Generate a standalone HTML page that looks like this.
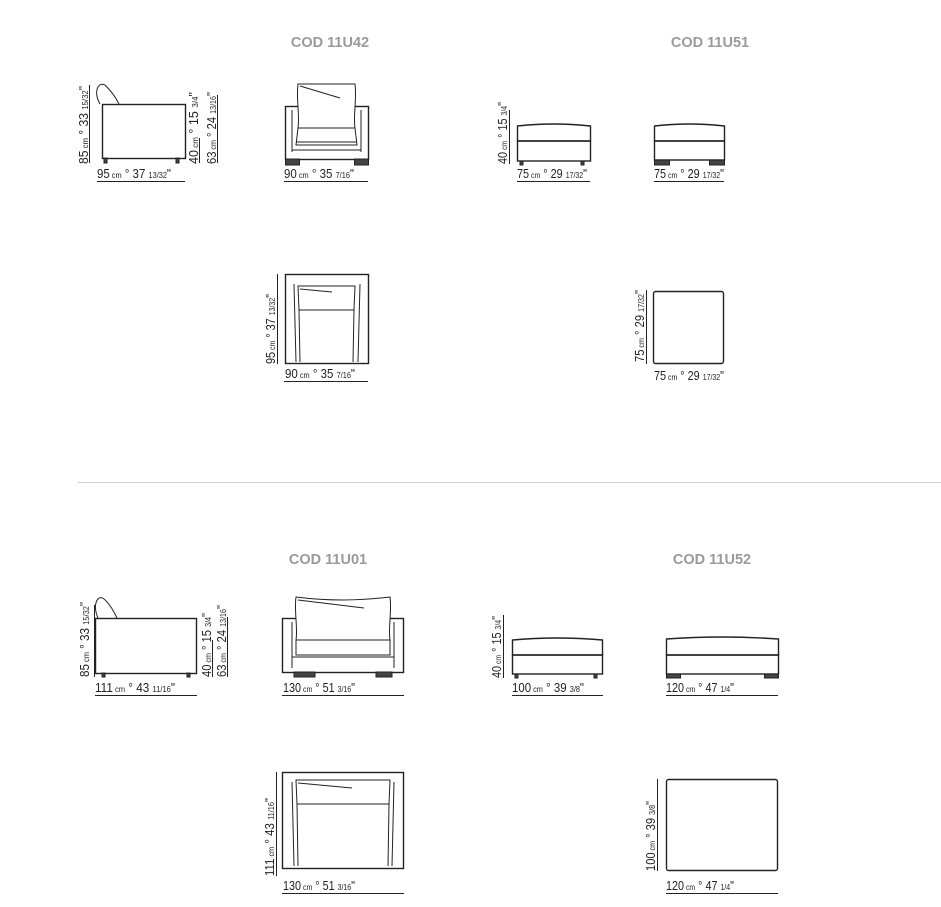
<!DOCTYPE html>
<html><head><meta charset="utf-8"><style>
html,body{margin:0;padding:0;background:#fff;}
svg{display:block;}
text{font-family:"Liberation Sans Narrow","Liberation Sans",sans-serif;fill:#222;}
.t{font-family:"Liberation Sans",sans-serif;fill:#9a9a9a;font-size:14.5px;font-weight:bold;}
.s{font-size:8px;}
.d{font-size:12.5px;}
line,rect,path,polyline{stroke:#222;fill:none;stroke-width:1;}
.thick{stroke-width:1.4;}
.ft{fill:#444;stroke:#222;}
</style></head><body>
<svg width="941" height="907" viewBox="0 0 941 907" xmlns="http://www.w3.org/2000/svg">
<text class="t" x="330" y="47" text-anchor="middle">COD 11U42</text>
<text class="t" x="710" y="47" text-anchor="middle">COD 11U51</text>
<text class="t" x="328" y="564" text-anchor="middle">COD 11U01</text>
<text class="t" x="712" y="564" text-anchor="middle">COD 11U52</text>
<line x1="78" y1="482.5" x2="941" y2="482.5" style="stroke:#d0d0d0"/>

<!-- 11U42 side -->
<path d="M100 104 C92 90,100 80,106 86 C112 92,116 98,119 104" />
<rect x="102.5" y="104.5" width="83" height="54" class="thick"/>
<rect x="104" y="158" width="3" height="5" class="ft"/>
<rect x="176" y="158" width="3" height="5" class="ft"/>
<line x1="89.5" y1="85" x2="89.5" y2="163"/>
<text class="d" transform="translate(88,164) rotate(-90)" textLength="78" lengthAdjust="spacingAndGlyphs">85<tspan class="s"> cm</tspan> ° 33 <tspan class="s">15/32</tspan>"</text>
<line x1="199.5" y1="138" x2="199.5" y2="163"/>
<text class="d" transform="translate(198,164) rotate(-90)" textLength="72" lengthAdjust="spacingAndGlyphs">40<tspan class="s"> cm</tspan> ° 15 <tspan class="s">3/4</tspan>"</text>
<line x1="217.5" y1="95" x2="217.5" y2="163"/>
<text class="d" transform="translate(216,164) rotate(-90)" textLength="72" lengthAdjust="spacingAndGlyphs">63<tspan class="s"> cm</tspan> ° 24 <tspan class="s">13/16</tspan>"</text>
<text class="d" x="97" y="178" textLength="74" lengthAdjust="spacingAndGlyphs">95<tspan class="s"> cm</tspan> ° 37 <tspan class="s">13/32</tspan>"</text>
<line x1="97" y1="181.5" x2="185" y2="181.5"/>

<!-- 11U42 front -->
<rect x="285.5" y="106.5" width="83" height="53" class="thick"/>
<rect x="285.5" y="159" width="14" height="6" class="ft"/>
<rect x="354.5" y="159" width="14" height="6" class="ft"/>
<line x1="292" y1="110" x2="292" y2="152"/>
<line x1="361" y1="110" x2="361" y2="152"/>
<path d="M298 84 C296 100,300 115,298 128 L296 145 L357 145 L355 128 C353 115,357 100,355 84 Z" style="fill:#fff"/>
<path d="M300 86 L340 98"/>
<line x1="298" y1="128" x2="355" y2="128"/>
<line x1="296" y1="142" x2="357" y2="142"/>
<line x1="292" y1="150" x2="361" y2="150"/>
<text class="d" x="284" y="178" textLength="70" lengthAdjust="spacingAndGlyphs">90<tspan class="s"> cm</tspan> ° 35 <tspan class="s">7/16</tspan>"</text>
<line x1="284" y1="181.5" x2="368" y2="181.5"/>

<!-- 11U42 top -->
<rect x="285.5" y="274.5" width="83" height="89" class="thick"/>
<line x1="294" y1="284" x2="296" y2="362"/>
<line x1="360" y1="284" x2="358" y2="362"/>
<path d="M298 286 L355 286 L354 310 L299 310 Z"/>
<path d="M300 289 L332 292"/>
<line x1="299" y1="310" x2="300" y2="362"/>
<line x1="354" y1="310" x2="353" y2="362"/>
<line x1="277.5" y1="274" x2="277.5" y2="364"/>
<text class="d" transform="translate(275,364) rotate(-90)" textLength="70" lengthAdjust="spacingAndGlyphs">95<tspan class="s"> cm</tspan> ° 37 <tspan class="s">13/32</tspan>"</text>
<text class="d" x="285" y="378" textLength="70" lengthAdjust="spacingAndGlyphs">90<tspan class="s"> cm</tspan> ° 35 <tspan class="s">7/16</tspan>"</text>
<line x1="284" y1="381.5" x2="368" y2="381.5"/>

<!-- 11U51 side -->
<path d="M517.5 126 Q553 122 590.5 126 L590.5 141 L517.5 141 Z" class="thick"/>
<rect x="517.5" y="141" width="73" height="20" class="thick"/>
<rect x="520" y="161" width="3" height="4" class="ft"/>
<rect x="581" y="161" width="3" height="4" class="ft"/>
<line x1="509.5" y1="110" x2="509.5" y2="164"/>
<text class="d" transform="translate(507,164) rotate(-90)" textLength="62" lengthAdjust="spacingAndGlyphs">40<tspan class="s"> cm</tspan> ° 15 <tspan class="s">3/4</tspan>"</text>
<text class="d" x="517" y="178" textLength="70" lengthAdjust="spacingAndGlyphs">75<tspan class="s"> cm</tspan> ° 29 <tspan class="s">17/32</tspan>"</text>
<line x1="517" y1="181.5" x2="590" y2="181.5"/>

<!-- 11U51 front -->
<path d="M654.5 126 Q689 122 724.5 126 L724.5 141 L654.5 141 Z" class="thick"/>
<rect x="654.5" y="141" width="70" height="19" class="thick"/>
<rect x="654.5" y="160" width="15" height="5" class="ft"/>
<rect x="709.5" y="160" width="15" height="5" class="ft"/>
<text class="d" x="654" y="178" textLength="70" lengthAdjust="spacingAndGlyphs">75<tspan class="s"> cm</tspan> ° 29 <tspan class="s">17/32</tspan>"</text>
<line x1="654" y1="181.5" x2="724" y2="181.5"/>

<!-- 11U51 top -->
<rect x="653.5" y="291.5" width="70" height="72" rx="2" class="thick"/>
<line x1="646.5" y1="290" x2="646.5" y2="364"/>
<text class="d" transform="translate(644,362) rotate(-90)" textLength="72" lengthAdjust="spacingAndGlyphs">75<tspan class="s"> cm</tspan> ° 29 <tspan class="s">17/32</tspan>"</text>
<text class="d" x="654" y="380" textLength="70" lengthAdjust="spacingAndGlyphs">75<tspan class="s"> cm</tspan> ° 29 <tspan class="s">17/32</tspan>"</text>

<!-- 11U01 side -->
<path d="M98 618 C92 604,98 594,104 599 C110 604,114 612,117 618"/>
<rect x="95.5" y="618.5" width="101" height="55" class="thick"/>
<rect x="102" y="673" width="3" height="4" class="ft"/>
<rect x="187" y="673" width="3" height="4" class="ft"/>
<line x1="94.5" y1="605" x2="94.5" y2="677"/>
<text class="d" transform="translate(89,677) rotate(-90)" textLength="75" lengthAdjust="spacingAndGlyphs">85<tspan class="s"> cm</tspan> ° 33 <tspan class="s">15/32</tspan>"</text>
<line x1="212.5" y1="640" x2="212.5" y2="677"/>
<text class="d" transform="translate(211,677) rotate(-90)" textLength="64" lengthAdjust="spacingAndGlyphs">40<tspan class="s"> cm</tspan> ° 15 <tspan class="s">3/4</tspan>"</text>
<line x1="227.5" y1="617" x2="227.5" y2="677"/>
<text class="d" transform="translate(226,677) rotate(-90)" textLength="72" lengthAdjust="spacingAndGlyphs">63<tspan class="s"> cm</tspan> ° 24 <tspan class="s">13/16</tspan>"</text>
<text class="d" x="95" y="692" textLength="80" lengthAdjust="spacingAndGlyphs">111<tspan class="s"> cm</tspan> ° 43 <tspan class="s">11/16</tspan>"</text>
<line x1="95" y1="695.5" x2="197" y2="695.5"/>

<!-- 11U01 front -->
<rect x="282.5" y="618.5" width="121" height="54" class="thick"/>
<rect x="294" y="672" width="21" height="5" class="ft"/>
<rect x="376" y="672" width="16" height="5" class="ft"/>
<line x1="292" y1="622" x2="292" y2="668"/>
<line x1="394" y1="622" x2="394" y2="668"/>
<path d="M296 597 C294 612,298 628,296 640 L296 655 L390 655 L390 640 C388 628,392 612,390 597 Q343 603 296 597 Z" style="fill:#fff"/>
<path d="M298 600 L364 608"/>
<line x1="296" y1="640" x2="390" y2="640"/>
<line x1="296" y1="655" x2="390" y2="655"/>
<line x1="292" y1="657" x2="394" y2="657"/>
<text class="d" x="283" y="692" textLength="72" lengthAdjust="spacingAndGlyphs">130<tspan class="s"> cm</tspan> ° 51 <tspan class="s">3/16</tspan>"</text>
<line x1="282" y1="695.5" x2="404" y2="695.5"/>

<!-- 11U01 top -->
<rect x="282.5" y="772.5" width="121" height="96" class="thick"/>
<line x1="292" y1="782" x2="294" y2="866"/>
<line x1="394" y1="782" x2="392" y2="866"/>
<path d="M296 780 L390 780 L389 804 L297 804 Z"/>
<path d="M298 783 L352 788"/>
<line x1="297" y1="804" x2="298" y2="866"/>
<line x1="389" y1="804" x2="388" y2="866"/>
<line x1="276.5" y1="772" x2="276.5" y2="876"/>
<text class="d" transform="translate(274,876) rotate(-90)" textLength="78" lengthAdjust="spacingAndGlyphs">111<tspan class="s"> cm</tspan> ° 43 <tspan class="s">11/16</tspan>"</text>
<text class="d" x="283" y="890" textLength="72" lengthAdjust="spacingAndGlyphs">130<tspan class="s"> cm</tspan> ° 51 <tspan class="s">3/16</tspan>"</text>
<line x1="282" y1="893.5" x2="404" y2="893.5"/>

<!-- 11U52 side -->
<path d="M512.5 640 Q557 636 602.5 640 L602.5 655 L512.5 655 Z" class="thick"/>
<rect x="512.5" y="655" width="90" height="19" class="thick"/>
<rect x="515" y="674" width="3" height="4" class="ft"/>
<rect x="594" y="674" width="3" height="4" class="ft"/>
<line x1="503.5" y1="615" x2="503.5" y2="678"/>
<text class="d" transform="translate(501,678) rotate(-90)" textLength="62" lengthAdjust="spacingAndGlyphs">40<tspan class="s"> cm</tspan> ° 15 <tspan class="s">3/4</tspan>"</text>
<text class="d" x="512" y="692" textLength="72" lengthAdjust="spacingAndGlyphs">100<tspan class="s"> cm</tspan> ° 39 <tspan class="s">3/8</tspan>"</text>
<line x1="512" y1="695.5" x2="603" y2="695.5"/>

<!-- 11U52 front -->
<path d="M666.5 639 Q722 635 778.5 639 L778.5 655 L666.5 655 Z" class="thick"/>
<rect x="666.5" y="655" width="112" height="19" class="thick"/>
<rect x="666.5" y="674" width="14" height="4" class="ft"/>
<rect x="764.5" y="674" width="14" height="4" class="ft"/>
<text class="d" x="666" y="692" textLength="68" lengthAdjust="spacingAndGlyphs">120<tspan class="s"> cm</tspan> ° 47 <tspan class="s">1/4</tspan>"</text>
<line x1="666" y1="695.5" x2="778" y2="695.5"/>

<!-- 11U52 top -->
<rect x="666.5" y="779.5" width="111" height="91" rx="2" class="thick"/>
<line x1="657.5" y1="779" x2="657.5" y2="871"/>
<text class="d" transform="translate(655,871) rotate(-90)" textLength="70" lengthAdjust="spacingAndGlyphs">100<tspan class="s"> cm</tspan> ° 39 <tspan class="s">3/8</tspan>"</text>
<text class="d" x="666" y="890" textLength="68" lengthAdjust="spacingAndGlyphs">120<tspan class="s"> cm</tspan> ° 47 <tspan class="s">1/4</tspan>"</text>
<line x1="666" y1="893.5" x2="778" y2="893.5"/>
</svg>
</body></html>
